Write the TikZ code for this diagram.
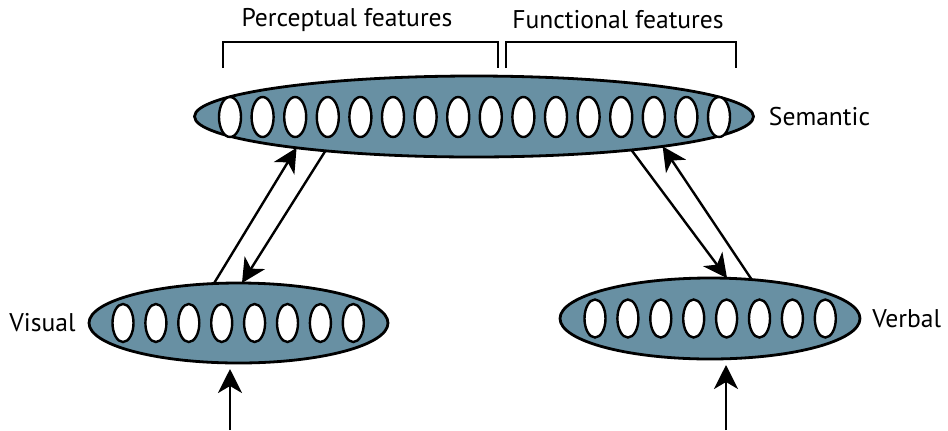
\documentclass[tikz,border=0pt]{standalone}
\usepackage{fontspec}
\setmainfont{PT Sans}
\usepackage{xcolor}
\usetikzlibrary{arrows.meta, positioning, shapes.geometric}
\definecolor{layerblue}{RGB}{104,144,163}

\begin{document}
\begin{tikzpicture}[x=0.5pt, y=-0.5pt,
    layer/.style={ellipse, draw, line width=1.4pt, fill=layerblue, inner sep=0pt, outer sep=0pt},
    unit/.style={ellipse, draw, line width=1.2pt, fill=white, inner sep=0pt, minimum width=11pt, minimum height=20pt},
    link/.style={line width=1.2pt, -{Stealth[length=12pt, width=12pt, inset=3.5pt]}},
    bracket/.style={line width=1.3pt},
    lbl/.style={font=\fontsize{12.8}{15}\selectfont, inner sep=0pt}]
    \useasboundingbox (0,0) rectangle (948,430);

    % Semantic layer
    \node[layer, minimum width=279.5pt, minimum height=40.5pt] (sem) at (474,116.5) {};
    \foreach \i in {0,...,15}
        \node[unit] (s\i) at ({230+32.6*\i},117) {};
    \node[lbl, right=7.5pt of sem] (semlbl) {Semantic};

    % Visual and verbal layers
    \node[layer, minimum width=149.5pt, minimum height=40pt] (vis) at (238.5,323) {};
    \foreach \i in {0,...,7}
        \node[unit, minimum width=10.5pt, minimum height=19pt] (v\i) at ({123+32.9*\i},323) {};
    \node[lbl, left=6.5pt of vis] (vislbl) {Visual};

    \node[layer, minimum width=150pt, minimum height=40.5pt] (verb) at (710,318.5) {};
    \foreach \i in {0,...,7}
        \node[unit, minimum width=10.5pt, minimum height=19pt] (w\i) at ({595+32.9*\i},318.5) {};
    \node[lbl, right=6pt of verb] (verblbl) {Verbal};

    % Feature groups
    \draw[bracket] (223,68) -- (223,42) -- (498,42) -- (498,68);
    \draw[bracket] (506,68) -- (506,42) -- (736,42) -- (736,68);
    \node[lbl] (perc) at (347,20) {Perceptual features};
    \node[lbl] (func) at (618,20) {Functional features};

    % Connections between layers
    \draw[link] (vis.122.9) -- (sem.190.6);
    \draw[link] (sem.193.5) -- (vis.85);
    \draw[link] (sem.348.9) -- (verb.67.2);
    \draw[link] (verb.43.3) -- (sem.351.4);

    % Inputs
    \coordinate (visin) at (230,430);
    \coordinate (verbin) at (726,430);
    \draw[link, shorten >=3pt] (visin) -- (visin |- vis.south);
    \draw[link, shorten >=3pt] (verbin) -- (verbin |- verb.south);
\end{tikzpicture}
\end{document}
